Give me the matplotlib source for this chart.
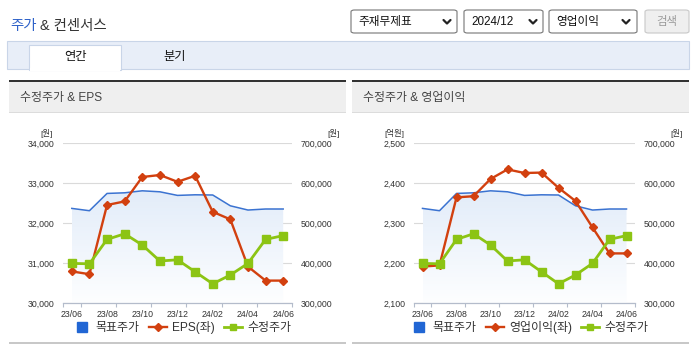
import numpy as np
import matplotlib
matplotlib.use('Agg')
import matplotlib.pyplot as plt
from matplotlib.patches import Rectangle, FancyBboxPatch
from matplotlib.lines import Line2D
from matplotlib.colors import LinearSegmentedColormap

plt.rcParams['font.family'] = ['Liberation Sans', 'Noto Sans CJK KR', 'DejaVu Sans']

# ---- data ----
months = ['23/06', '23/07', '23/08', '23/09', '23/10', '23/11', '23/12',
          '24/01', '24/02', '24/03', '24/04', '24/05', '24/06']
tick_labels = ['23/06', '23/08', '23/10', '23/12', '24/02', '24/04', '24/06']

eps = [30790, 30720, 32450, 32540, 33150, 33200, 33030,
       33180, 32280, 32090, 30910, 30560, 30560]
op_income = [2191, 2194, 2364, 2367, 2410, 2434, 2425,
             2426, 2388, 2355, 2289, 2224, 2224]
adj_price = [399000, 398000, 459000, 473000, 445000, 405000, 408000,
             378000, 348000, 370000, 399000, 459000, 468500]
target_price = [536500, 530700, 573900, 575500, 580500, 578000, 569000,
                570500, 570000, 543000, 532400, 535000, 535000]

W, H = 695, 349
fig = plt.figure(figsize=(W / 100, H / 100), dpi=100)

C_BLUE = '#3b73d1'
C_RED = '#d2400f'
C_GREEN = '#8cc414'
C_TXT = '#333333'


def box(x, y, w, h, **kw):
    r = Rectangle((x / W, 1 - (y + h) / H), w / W, h / H,
                  transform=fig.transFigure, **kw)
    fig.patches.append(r)
    return r


def rbox(x, y, w, h, **kw):
    r = FancyBboxPatch((x / W, 1 - (y + h) / H), w / W, h / H,
                       boxstyle='round,pad=0,rounding_size=0.005',
                       transform=fig.transFigure, **kw)
    fig.patches.append(r)


def txt(x, y, s, **kw):
    fig.text(x / W, 1 - y / H, s, **kw)


def chevron(x, y):
    fig.add_artist(Line2D([(x - 3.5) / W, x / W, (x + 3.5) / W],
                          [1 - (y - 2) / H, 1 - (y + 1.5) / H, 1 - (y - 2) / H],
                          transform=fig.transFigure, color='#222222', lw=1.6,
                          solid_capstyle='round', solid_joinstyle='round'))


# ---- header ----
txt(10, 26, '주가', color='#2f62c9', fontsize=10.4, va='center')
txt(40, 26, '& 컨센서스', color=C_TXT, fontsize=10.4, va='center')

rbox(351, 10, 106, 23, facecolor='white', edgecolor='#767676', lw=0.8)
rbox(464, 10, 79, 23, facecolor='white', edgecolor='#767676', lw=0.8)
rbox(549, 10, 88, 23, facecolor='white', edgecolor='#767676', lw=0.8)
rbox(645, 10, 44, 23, facecolor='#efefef', edgecolor='#c8c8c8', lw=0.8)
txt(358, 22, '주재무제표', fontsize=8.4, color='#111111', va='center')
txt(471, 22, '2024/12', fontsize=8.4, color='#111111', va='center')
txt(556, 22, '영업이익', fontsize=8.4, color='#111111', va='center')
txt(667, 22, '검색', fontsize=8.2, color='#9a9a9a', va='center', ha='center')
for cx in (447, 533, 626):
    chevron(cx, 22)

# tab band
box(7, 41, 682, 28, facecolor='#e8eef8', edgecolor='#c9d5e8', lw=0.8)
box(29, 45, 92, 25, facecolor='white', edgecolor='#c9d5e8', lw=0.8)
box(29.6, 68, 90.8, 3, facecolor='white', edgecolor='none')
txt(75, 57, '연간', fontsize=8.8, color='#111111', va='center', ha='center')
txt(175, 57, '분기', fontsize=8.8, color='#111111', va='center', ha='center')

# ---- panels ----
panels = [
    dict(x0=9, x1=346, title='수정주가 & EPS', ax_x=63, ax_w=229,
         left=eps, lo=30000, hi=34000, unit='[원]', name='EPS(좌)'),
    dict(x0=352, x1=689, title='수정주가 & 영업이익', ax_x=414, ax_w=221,
         left=op_income, lo=2100, hi=2500, unit='[억원]', name='영업이익(좌)'),
]

grad = LinearSegmentedColormap.from_list('g', ['#fdfeff', '#e2ecf9'])
x = np.arange(len(months))
p_lo, p_hi = 300000, 700000

for p in panels:
    box(p['x0'], 80, p['x1'] - p['x0'], 32, facecolor='#efefef', edgecolor='none')
    box(p['x0'], 80, p['x1'] - p['x0'], 2, facecolor='#333333', edgecolor='none')
    box(p['x0'], 111.5, p['x1'] - p['x0'], 1, facecolor='#dcdcdc', edgecolor='none')
    box(p['x0'], 342, p['x1'] - p['x0'], 2, facecolor='#c8c8c8', edgecolor='none')
    txt(p['x0'] + 11, 98, p['title'], fontsize=8.6, color='#444444', va='center')

    ax = fig.add_axes([p['ax_x'] / W, 1 - 303 / H, p['ax_w'] / W, 160 / H])
    lo, hi = p['lo'], p['hi']
    k = (p_hi - p_lo) / (hi - lo)

    def to_price(v, lo=lo, k=k):
        return p_lo + (np.asarray(v, dtype=float) - lo) * k

    def to_left(v, lo=lo, k=k):
        return lo + (np.asarray(v, dtype=float) - p_lo) / k

    ax.set_xlim(-0.5, 12.5)
    ax.set_ylim(p_lo, p_hi)

    # gradient area under target price
    poly = ax.fill_between(x, target_price, p_lo, color='none', lw=0)
    img = ax.imshow(np.linspace(0, 1, 200).reshape(-1, 1), cmap=grad,
                    extent=[0, 12, p_lo, 585000], origin='lower',
                    aspect='auto', zorder=1, vmin=0, vmax=1)
    img.set_clip_path(poly.get_paths()[0], transform=ax.transData)

    ax.plot(x, target_price, color=C_BLUE, lw=1.1, zorder=3)
    ax.plot(x, to_price(p['left']), color=C_RED, lw=1.7, marker='D',
            markersize=3.8, zorder=4)
    ax.plot(x, adj_price, color=C_GREEN, lw=2.0, marker='s',
            markersize=5.8, zorder=5)

    ax.set_yticks(np.arange(p_lo, p_hi + 1, 100000))
    ax.yaxis.tick_right()
    ax.set_yticklabels([f'{v:,}' for v in range(p_lo, p_hi + 1, 100000)])
    ax.grid(axis='y', color='#dadada', lw=0.8, zorder=0)
    ax.set_axisbelow(True)
    ax.tick_params(axis='y', length=0, pad=6, labelsize=6.3, labelcolor=C_TXT)

    sec = ax.secondary_yaxis('left', functions=(to_left, to_price))
    step = (hi - lo) / 4
    sec.set_yticks(np.arange(lo, hi + 1, step))
    sec.set_yticklabels([f'{int(v):,}' for v in np.arange(lo, hi + 1, step)])
    sec.tick_params(length=0, pad=6, labelsize=6.3, labelcolor=C_TXT)
    sec.spines['left'].set_visible(False)

    ax.set_xticks(x[::2])
    ax.set_xticklabels(tick_labels)
    ax.set_xticks([-0.5, 0.5, 2.5, 4.5, 6.5, 8.5, 10.5, 12.5], minor=True)
    ax.tick_params(axis='x', which='major', length=0, pad=5, labelsize=6.3,
                   labelcolor=C_TXT)
    ax.tick_params(axis='x', which='minor', length=3, width=0.8,
                   color='#b4bccb', direction='out')
    for s in ('top', 'left', 'right'):
        ax.spines[s].set_visible(False)
    ax.spines['bottom'].set_color('#b4bccb')
    ax.spines['bottom'].set_linewidth(0.9)

    ax.text(-10 / p['ax_w'], 170 / 160, p['unit'], transform=ax.transAxes,
            ha='right', va='center', fontsize=6, color=C_TXT)
    ax.text((p['ax_w'] + 48) / p['ax_w'], 170 / 160, '[원]', transform=ax.transAxes,
            ha='right', va='center', fontsize=6, color=C_TXT)

    handles = [
        Line2D([], [], ls='none', marker='s', markersize=7.2, color='#2166d4'),
        Line2D([], [], color=C_RED, lw=1.7, marker='D', markersize=3.8),
        Line2D([], [], color=C_GREEN, lw=2.0, marker='s', markersize=5.0),
    ]
    ax.legend(handles, ['목표주가', p['name'], '수정주가'], loc='center',
              bbox_to_anchor=(0.52, -25 / 160), ncol=3, frameon=False,
              fontsize=8.6, handlelength=1.5, handletextpad=0.4,
              columnspacing=0.8, labelcolor=C_TXT, borderaxespad=0)

fig.savefig('out.png', dpi=100)
